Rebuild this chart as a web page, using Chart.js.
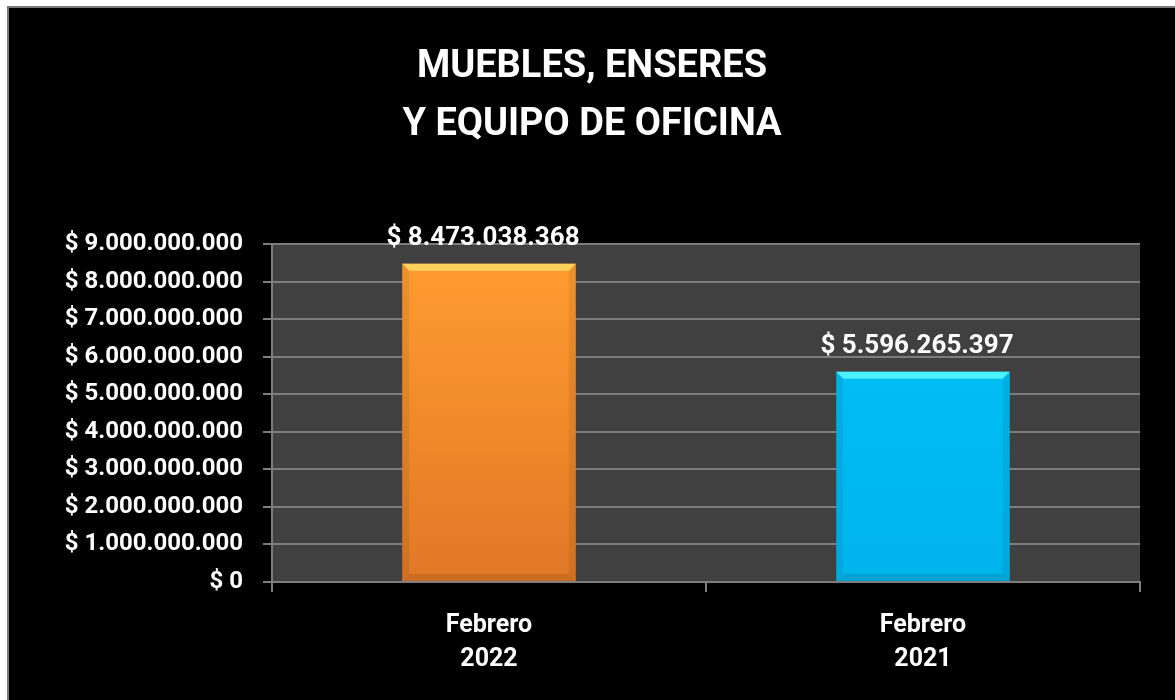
<!DOCTYPE html>
<html>
<head>
<meta charset="utf-8">
<script src="https://cdn.jsdelivr.net/npm/chart.js@4.4.1/dist/chart.umd.min.js"></script>
<style>
  html, body { margin: 0; padding: 0; background: #fff; }
  #frame {
    position: absolute; left: 7px; top: 6px;
    width: 1166px; height: 692px;
    border-top: 2px solid #7a7a7a; border-left: 2px solid #7a7a7a;
    background: #000;
  }
  canvas { display: block; }
</style>
</head>
<body>
<div id="frame"><canvas id="chart" width="1166" height="692"></canvas></div>
<script>
// data
const titleLines = ['MUEBLES, ENSERES', 'Y EQUIPO DE OFICINA'];
const categories = [['Febrero', '2022'], ['Febrero', '2021']];
const values = [8473038368, 5596265397];
const yTicks = [0, 1e9, 2e9, 3e9, 4e9, 5e9, 6e9, 7e9, 8e9, 9e9];

// styles
const barTop = ['#ff9c30', '#00bdf4'];
const barBottom = ['#e07826', '#00b4ec'];
const bevelColor = ['#ffd25c', '#48f2ff'];
const gridColor = '#7d7d7d';
const font = 'Roboto';

function money(v) {
  return '$ ' + Math.round(v).toString().replace(/\B(?=(\d{3})+(?!\d))/g, '.');
}

function barFill(ctx) {
  const chart = ctx.chart;
  const area = chart.chartArea;
  const i = ctx.dataIndex;
  if (!area || !chart.scales.y) return barTop[i];
  const top = chart.scales.y.getPixelForValue(values[i]);
  const g = chart.ctx.createLinearGradient(0, top, 0, area.bottom);
  g.addColorStop(0, barTop[i]);
  g.addColorStop(1, barBottom[i]);
  return g;
}

const plotBg = {
  id: 'plotBg',
  beforeDraw(chart) {
    const { ctx, chartArea: a } = chart;
    ctx.save();
    ctx.fillStyle = '#404040';
    ctx.fillRect(a.left, a.top, a.right - a.left, a.bottom - a.top);
    ctx.restore();
  }
};

// bevel look on the bars + value labels above them
const barDecor = {
  id: 'barDecor',
  afterDatasetsDraw(chart) {
    const ctx = chart.ctx;
    const meta = chart.getDatasetMeta(0);
    meta.data.forEach((bar, i) => {
      const { x, y, base, width } = bar.getProps(['x', 'y', 'base', 'width'], true);
      const l = x - width / 2, r = x + width / 2, b = 7;
      ctx.save();
      ctx.fillStyle = bevelColor[i];
      ctx.beginPath();
      ctx.moveTo(l, y); ctx.lineTo(r, y); ctx.lineTo(r - b, y + b); ctx.lineTo(l + b, y + b);
      ctx.closePath(); ctx.fill();
      ctx.fillStyle = 'rgba(0,0,0,0.07)';
      ctx.beginPath();
      ctx.moveTo(l, y); ctx.lineTo(l + b, y + b); ctx.lineTo(l + b, base - b); ctx.lineTo(l, base);
      ctx.closePath(); ctx.fill();
      ctx.beginPath();
      ctx.moveTo(r, y); ctx.lineTo(r - b, y + b); ctx.lineTo(r - b, base - b); ctx.lineTo(r, base);
      ctx.closePath(); ctx.fill();
      ctx.fillStyle = 'rgba(0,0,0,0.10)';
      ctx.beginPath();
      ctx.moveTo(l, base); ctx.lineTo(l + b, base - b); ctx.lineTo(r - b, base - b); ctx.lineTo(r, base);
      ctx.closePath(); ctx.fill();

      ctx.fillStyle = '#fff';
      ctx.font = 'bold 26px ' + font;
      ctx.textAlign = 'center';
      ctx.textBaseline = 'alphabetic';
      ctx.fillText(money(values[i]), x - 6, y - 19);
      ctx.restore();
    });
  }
};

new Chart(document.getElementById('chart'), {
  type: 'bar',
  data: {
    labels: categories,
    datasets: [{
      data: values,
      backgroundColor: barFill,
      borderWidth: 0,
      barPercentage: 0.4,
      categoryPercentage: 1
    }]
  },
  options: {
    responsive: false,
    animation: false,
    layout: { padding: { left: 35, right: 35, top: 0, bottom: 0 } },
    plugins: {
      legend: { display: false },
      tooltip: { enabled: false },
      title: {
        display: true,
        text: titleLines,
        color: '#fff',
        font: { family: font, size: 38, weight: 'bold', lineHeight: 1.54 },
        padding: { top: 30, bottom: 89 }
      }
    },
    scales: {
      x: {
        grid: { drawOnChartArea: false, color: gridColor, lineWidth: 2, tickLength: 10, offset: true },
        border: { color: gridColor, width: 2 },
        ticks: {
          color: '#fff',
          font: { family: font, size: 25, weight: 'bold', lineHeight: 1.36 },
          padding: 17
        },
        afterFit: s => { s.height = 118; }
      },
      y: {
        min: yTicks[0],
        max: yTicks[yTicks.length - 1],
        afterBuildTicks: s => { s.ticks = yTicks.map(v => ({ value: v })); },
        grid: { color: gridColor, lineWidth: 2, tickLength: 9 },
        border: { color: gridColor, width: 2 },
        ticks: {
          color: '#fff',
          font: { family: font, size: 24, weight: 'bold' },
          padding: 20,
          callback: v => money(v)
        },
        afterFit: s => { s.width = 228; }
      }
    }
  },
  plugins: [plotBg, barDecor]
});
</script>
</body>
</html>
